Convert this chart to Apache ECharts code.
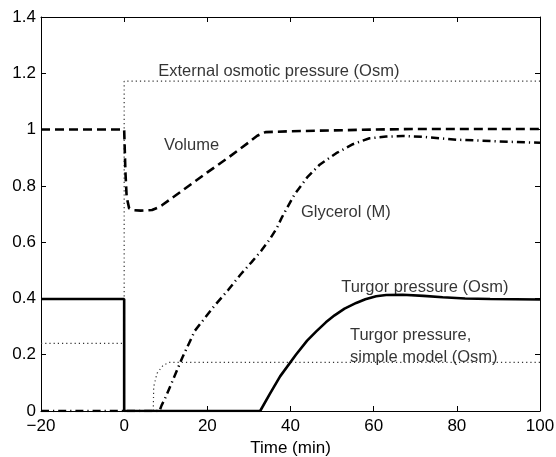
<!DOCTYPE html>
<html>
<head>
<meta charset="utf-8">
<script src="https://cdn.jsdelivr.net/npm/echarts@6/dist/echarts.min.js"></script>
<style>
  html, body { margin: 0; padding: 0; background: #fff; }
  #chart { width: 556px; height: 457px; }
</style>
</head>
<body>
<div id="chart"></div>
<script>
// time (min) and values
const extX = [-20, 0, 0, 100];
const extY = [0.24, 0.24, 1.172, 1.172];

const volX = [-20, 0, 0.3, 0.6, 1.2, 2, 4, 6.7, 8, 9, 12, 16, 20, 25, 30, 32, 34, 40, 50, 60, 70, 100];
const volY = [1, 1, 0.85, 0.76, 0.72, 0.714, 0.712, 0.714, 0.722, 0.73, 0.762, 0.805, 0.848, 0.9, 0.955, 0.978, 0.991, 0.994, 0.997, 1.0, 1.002, 1.002];

const glyX = [-20, 0, 8.5, 9, 10, 12, 14, 17, 21.5, 25, 28, 30.7, 33, 35, 36.7, 38, 41, 44, 47, 51, 55, 59, 63, 67, 72, 80, 90, 100];
const glyY = [0, 0, 0, 0.02, 0.05, 0.12, 0.19, 0.285, 0.37, 0.43, 0.485, 0.53, 0.57, 0.61, 0.65, 0.69, 0.77, 0.83, 0.875, 0.916, 0.948, 0.969, 0.975, 0.977, 0.974, 0.964, 0.958, 0.953];

const turX = [-20, 0, 0, 32.7, 35, 37.5, 41.3, 44, 46.2, 48.5, 50.6, 53, 55.8, 58, 60.6, 63, 67, 72, 76.6, 82, 88, 100];
const turY = [0.398, 0.398, 0, 0, 0.06, 0.123, 0.2, 0.25, 0.283, 0.315, 0.34, 0.364, 0.384, 0.397, 0.408, 0.412, 0.413, 0.409, 0.404, 0.4, 0.398, 0.396];

const simX = [0, 7, 7.1, 7.9, 9.4, 10.9, 100];
const simY = [0, 0, 0.086, 0.134, 0.163, 0.173, 0.173];

// annotations: text, left x, middle y (data units)
const noteText = ['External osmotic pressure (Osm)', 'Volume', 'Glycerol (M)', 'Turgor pressure (Osm)', 'Turgor pressure,', 'simple model (Osm)'];
const noteX = [8.2, 9.6, 42.5, 52.2, 54.3, 54.3];
const noteY = [1.205, 0.945, 0.704, 0.44, 0.27, 0.19];

const xTicks = [-20, 0, 20, 40, 60, 80, 100];
const yTicks = [0, 0.2, 0.4, 0.6, 0.8, 1, 1.2, 1.4];

function zip(xs, ys) {
  return xs.map((x, i) => [x, ys[i]]);
}

const font = 'Liberation Sans, Arial, sans-serif';
const chart = echarts.init(document.getElementById('chart'));

const lineBase = {
  type: 'line',
  showSymbol: false,
  symbol: 'none',
  animation: false,
  z: 3
};

const axisCommon = {
  axisLine: {show: true, onZero: false, lineStyle: {color: '#000', width: 1}},
  axisTick: {show: true, inside: true, length: 5, lineStyle: {color: '#000'}},
  splitLine: {show: false}
};

let option = {
  animation: false,
  backgroundColor: '#fff',
  grid: {left: 41, right: 16, top: 17, bottom: 46, containLabel: false, outerBoundsMode: 'none'},
  xAxis: [
    {
      ...axisCommon,
      type: 'value',
      min: xTicks[0],
      max: xTicks[xTicks.length - 1],
      interval: 20,
      name: 'Time (min)',
      nameLocation: 'middle',
      nameGap: 29,
      nameTextStyle: {color: '#000', fontSize: 17, fontFamily: font},
      axisLabel: {
        color: '#000', fontSize: 17, fontFamily: font, margin: 7,
        formatter: v => String(v).replace('-', '\u2212')
      }
    },
    {
      ...axisCommon,
      type: 'value',
      position: 'top',
      min: xTicks[0],
      max: xTicks[xTicks.length - 1],
      interval: 20,
      axisLabel: {show: false}
    }
  ],
  yAxis: [
    {
      ...axisCommon,
      type: 'value',
      min: yTicks[0],
      max: yTicks[yTicks.length - 1],
      interval: 0.2,
      axisLabel: {color: '#000', fontSize: 17, fontFamily: font, margin: 5}
    },
    {
      ...axisCommon,
      type: 'value',
      position: 'right',
      min: yTicks[0],
      max: yTicks[yTicks.length - 1],
      interval: 0.2,
      axisLabel: {show: false}
    }
  ],
  series: [
    {
      ...lineBase, name: 'External osmotic pressure',
      data: zip(extX, extY),
      lineStyle: {color: '#333', width: 1.2, type: [1.2, 3]}
    },
    {
      ...lineBase, name: 'Turgor pressure, simple model',
      data: zip(simX, simY),
      lineStyle: {color: '#333', width: 1.2, type: [1.2, 3]}
    },
    {
      ...lineBase, name: 'Volume',
      data: zip(volX, volY),
      lineStyle: {color: '#000', width: 2.6, type: [9, 5]}
    },
    {
      ...lineBase, name: 'Glycerol',
      data: zip(glyX, glyY),
      lineStyle: {color: '#000', width: 2.5, type: [8, 4, 1.2, 4]}
    },
    {
      ...lineBase, name: 'Turgor pressure',
      data: zip(turX, turY),
      lineStyle: {color: '#000', width: 2.6, type: 'solid'}
    },
    {
      type: 'scatter',
      name: 'notes',
      symbolSize: 0,
      silent: true,
      z: 5,
      data: noteText.map((t, i) => ({name: t, value: [noteX[i], noteY[i]]})),
      label: {
        show: true,
        position: 'right',
        distance: 0,
        formatter: p => p.name,
        color: '#000',
        fontSize: 16.5,
        fontFamily: font
      }
    }
  ]
};

chart.setOption(option);
</script>
</body>
</html>
